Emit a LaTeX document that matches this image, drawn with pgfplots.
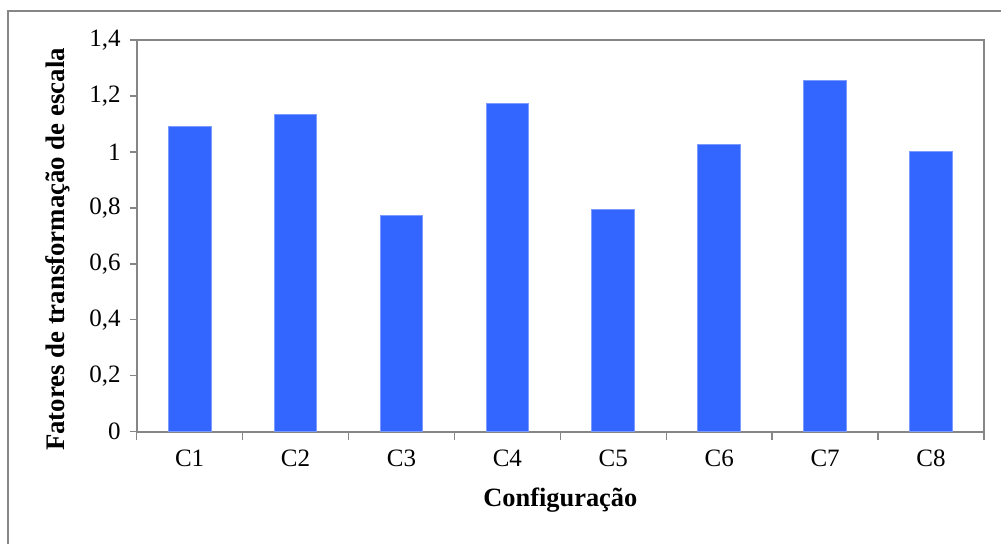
\documentclass[border=0pt]{standalone}
\usepackage{pgfplots}
\pgfplotsset{compat=1.18}
\usepackage{fontspec}
\setmainfont{Liberation Serif}
\definecolor{barblue}{RGB}{51,102,255}
\definecolor{baredge}{RGB}{125,155,255}
\definecolor{axgray}{RGB}{134,134,134}
\begin{document}
\begin{tikzpicture}
\useasboundingbox (0pt,0pt) rectangle (500.5pt,272pt);
\begin{scope}
\clip (0pt,0pt) rectangle (500.5pt,272pt);
\draw[axgray, line width=0.7pt] (4pt,-10pt) rectangle (515pt,266.5pt);
\end{scope}
\begin{axis}[
  at={(68.35pt,56.15pt)}, anchor=south west,
  scale only axis,
  width=423.65pt, height=195.85pt,
  xmin=0.5, xmax=8.5,
  ymin=0, ymax=1.4,
  ytick={0,0.2,...,1.4},
  xtick={1,...,8},
  xticklabels={C1,C2,C3,C4,C5,C6,C7,C8},
  minor xtick={0.5,1.5,...,8.5},
  major x tick style={draw=none},
  xtick pos=bottom, ytick pos=left,
  tick align=outside,
  major tick length=3.5pt,
  minor tick length=4pt,
  every tick/.style={axgray, line width=0.7pt},
  axis line style={axgray, line width=0.9pt},
  /pgf/number format/.cd, use comma, fixed, precision=1, assume math mode=true,
  /pgfplots/.cd,
  tick label style={font=\fontsize{12.5}{14}\selectfont, black},
  xticklabel style={yshift=-2pt},
  yticklabel style={xshift=-1pt},
  ylabel={\textbf{Fatores de transformação de escala}},
  ylabel style={at={(axis description cs:-0.093,0.465)}, anchor=center, font=\fontsize{13.4}{15}\selectfont},
  xlabel={\textbf{Configuração}},
  xlabel style={at={(axis description cs:0.5,-0.174)}, anchor=center, font=\fontsize{13.2}{15}\selectfont},
  ybar, bar width=21.35pt,
  clip=false,
]
\addplot[fill=barblue, draw=baredge, line width=0.5pt] coordinates {
  (1,1.092) (2,1.134) (3,0.773) (4,1.174) (5,0.795) (6,1.025) (7,1.256) (8,1.003)
};
\end{axis}
\end{tikzpicture}
\end{document}
